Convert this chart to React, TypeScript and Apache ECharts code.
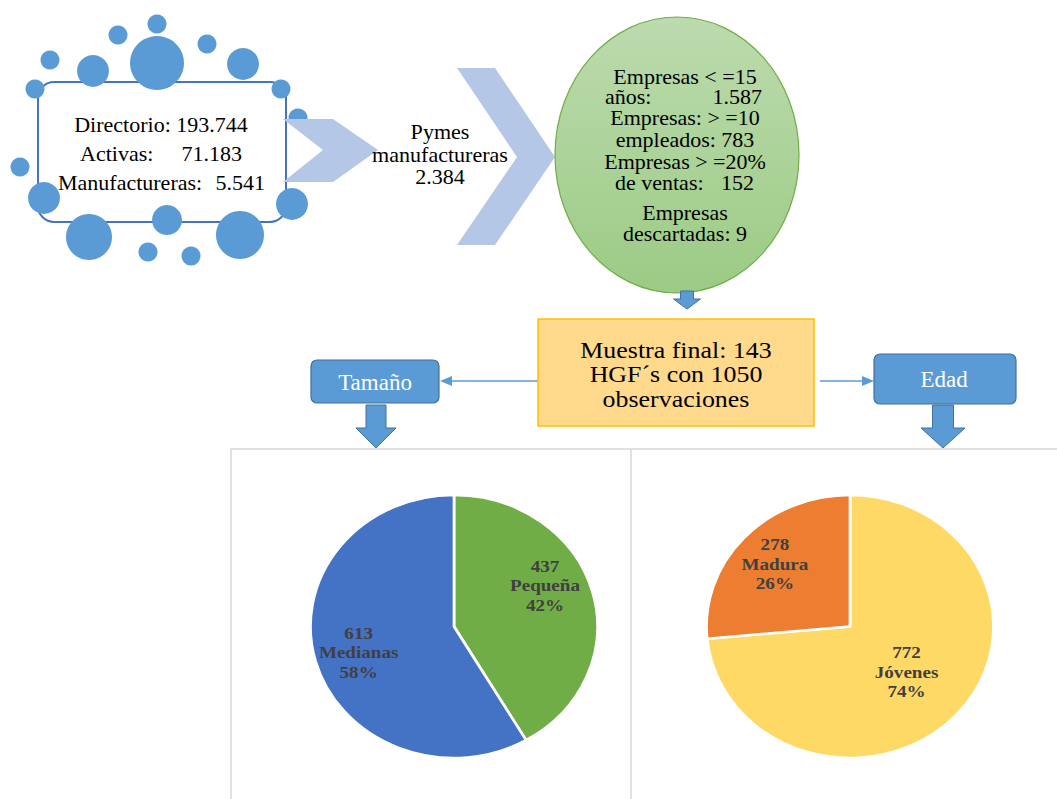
import React, { useEffect, useRef } from "react";
import * as echarts from "echarts";

const SERIF = "Liberation Serif";

// Pie data: size of the firms and age of the firms
const sizeNames = ["Pequeña", "Medianas"];
const sizeValues = [437, 613];
const ageNames = ["Jóvenes", "Madura"];
const ageValues = [772, 278];

// Funnel figures
const directorio = "193.744";
const activas = "71.183";
const manufactureras = "5.541";
const pymes = "2.384";
const filterLines = ["Empresas < =15", "", "Empresas: > =10", "empleados: 783", "Empresas > =20%", ""];
const aniosValue = "1.587";
const ventasValue = "152";
const descartadasLines = ["Empresas", "descartadas: 9"];
const muestraLines = ["Muestra final: 143", "HGF´s con 1050", "observaciones"];
const leftBranch = "Tamaño";
const rightBranch = "Edad";

// Decorative bubbles around the directory box: [cx, cy, r]
const bubbles: number[][] = [
  [157, 24, 9.5], [118, 35, 9.5], [207, 44, 9.5], [50, 60, 9.5], [93, 71, 16],
  [157, 63, 27], [243, 64, 16], [35, 89, 9.5], [281, 89, 9.5], [298, 118, 9.5],
  [20, 167, 9.5], [44, 198, 16], [292, 204, 16], [89, 237, 23], [167, 220, 15],
  [240, 235, 24], [148, 252, 9.5], [191, 256, 9.5],
];

const BLUE = "#5B9BD5";
const BLUE_DARK = "#41719C";
const CHEVRON = "#B4C7E7";

// Horizontal stretch of the pie layer (pies are slightly wider than tall)
const PIE_STRETCH = 1.0913;

function txt(x: number, y: number, text: string, size: number, opts: any = {}) {
  const align = opts.align || "center";
  return {
    type: "text",
    x,
    y,
    z: 20,
    scaleX: opts.scaleX || 1,
    style: {
      text,
      fontFamily: SERIF,
      fontSize: size,
      fontWeight: opts.weight || "normal",
      fill: opts.fill || "#000",
      align,
      textAlign: align,
      verticalAlign: "middle",
      textVerticalAlign: "middle",
      lineHeight: opts.lineHeight || size,
    },
  };
}

function blockArrowDown(cx: number, top: number, shaftW: number, headW: number, shaftEnd: number, tip: number) {
  return {
    type: "polygon",
    z: 10,
    shape: {
      points: [
        [cx - shaftW / 2, top], [cx + shaftW / 2, top], [cx + shaftW / 2, shaftEnd],
        [cx + headW / 2, shaftEnd], [cx, tip], [cx - headW / 2, shaftEnd], [cx - shaftW / 2, shaftEnd],
      ],
    },
    style: { fill: BLUE, stroke: BLUE_DARK, lineWidth: 1 },
  };
}

function buildGraphics() {
  const g: any[] = [];

  // Panel frames for the two pies
  const frame = { stroke: "#D9D9D9", lineWidth: 1.5 };
  g.push({ type: "line", shape: { x1: 230, y1: 449, x2: 1057, y2: 449 }, style: frame });
  g.push({ type: "line", shape: { x1: 231, y1: 449, x2: 231, y2: 799 }, style: frame });
  g.push({ type: "line", shape: { x1: 631, y1: 449, x2: 631, y2: 799 }, style: frame });

  // Directory box
  g.push({
    type: "rect",
    z: 5,
    shape: { x: 38, y: 82, width: 248, height: 140, r: 16 },
    style: { fill: "#fff", stroke: "#4472C4", lineWidth: 2 },
  });
  bubbles.forEach(([cx, cy, r]) => {
    g.push({ type: "circle", z: 6, shape: { cx, cy, r }, style: { fill: BLUE } });
  });
  g.push(txt(161, 124, `Directorio: ${directorio}`, 22));
  g.push(txt(80, 153, "Activas:", 22, { align: "left" }));
  g.push(txt(242, 153, activas, 22, { align: "right" }));
  g.push(txt(58, 182, "Manufactureras:", 22, { align: "left" }));
  g.push(txt(265, 182, manufactureras, 22, { align: "right" }));

  // Small chevron
  g.push({
    type: "polygon",
    z: 8,
    shape: { points: [[283, 119], [333, 119], [378, 150], [333, 182], [283, 182], [323, 150]] },
    style: { fill: CHEVRON },
  });
  g.push(txt(440, 155, `Pymes\nmanufactureras\n${pymes}`, 21, { lineHeight: 22.5, scaleX: 1.05 }));

  // Large chevron
  g.push({
    type: "polygon",
    z: 8,
    shape: { points: [[457, 68], [495, 68], [555, 157], [495, 245], [457, 245], [517, 157]] },
    style: { fill: CHEVRON },
  });

  // Filter ellipse
  g.push({
    type: "ellipse",
    z: 9,
    shape: { cx: 677, cy: 155, rx: 122, ry: 138 },
    style: {
      fill: {
        type: "linear", x: 0, y: 0, x2: 0, y2: 1,
        colorStops: [
          { offset: 0, color: "#BCDBAE" },
          { offset: 1, color: "#9CCB85" },
        ],
      },
      stroke: "#70AD47",
      lineWidth: 1.2,
    },
  });
  const f = { lineHeight: 20, scaleX: 1.1 };
  const fy = [77, 97, 118, 140, 162, 183];
  filterLines.forEach((t, i) => {
    if (t) g.push(txt(685, fy[i], t, 20, f));
  });
  g.push(txt(605, 97, "años:", 20, { ...f, align: "left" }));
  g.push(txt(762, 97, aniosValue, 20, { ...f, align: "right" }));
  g.push(txt(615, 183, "de ventas:", 20, { ...f, align: "left" }));
  g.push(txt(754, 183, ventasValue, 20, { ...f, align: "right" }));
  g.push(txt(685, 213, descartadasLines[0], 20, f));
  g.push(txt(685, 234, descartadasLines[1], 20, f));

  g.push(blockArrowDown(687, 291, 13, 27, 299, 309));

  // Final sample box
  g.push({
    type: "rect",
    z: 9,
    shape: { x: 538, y: 319, width: 276, height: 107 },
    style: { fill: "#FFD98C", stroke: "#FFC000", lineWidth: 1.5 },
  });
  g.push(txt(676, 374, muestraLines.join("\n"), 24, { lineHeight: 24.5, scaleX: 1.08 }));

  // Connectors
  const conn = { stroke: BLUE, lineWidth: 1.5 };
  g.push({ type: "line", shape: { x1: 538, y1: 381, x2: 448, y2: 381 }, style: conn });
  g.push({ type: "polygon", shape: { points: [[440, 381], [452, 376], [452, 386]] }, style: { fill: BLUE } });
  g.push({ type: "line", shape: { x1: 820, y1: 381, x2: 866, y2: 381 }, style: conn });
  g.push({ type: "polygon", shape: { points: [[874, 381], [862, 376], [862, 386]] }, style: { fill: BLUE } });

  // Branch boxes
  g.push({
    type: "rect",
    z: 9,
    shape: { x: 311, y: 360, width: 128, height: 43, r: 6 },
    style: { fill: BLUE, stroke: BLUE_DARK, lineWidth: 1.2 },
  });
  g.push(txt(375, 382, leftBranch, 23, { fill: "#fff" }));
  g.push({
    type: "rect",
    z: 9,
    shape: { x: 874, y: 354, width: 142, height: 50, r: 6 },
    style: { fill: BLUE, stroke: BLUE_DARK, lineWidth: 1.2 },
  });
  g.push(txt(944, 379, rightBranch, 23, { fill: "#fff" }));

  g.push(blockArrowDown(376, 405, 20, 40, 428, 448));
  g.push(blockArrowDown(943, 405, 21, 44, 428, 448));

  return g;
}

// Label nudges (dx, dy) per slice, in the unstretched pie layer
const sizeLabelShift = [[17, -23], [-21, 8]];
const ageLabelShift = [[1, -1], [-18, -16]];

function pieSeries(names: string[], values: number[], colors: string[], center: number[], shift: number[][]) {
  return {
    type: "pie",
    center,
    radius: 131.5,
    startAngle: 90,
    clockwise: true,
    percentPrecision: 0,
    silent: true,
    data: names.map((name, i) => ({ name, value: values[i], itemStyle: { color: colors[i] } })),
    itemStyle: { borderColor: "#fff", borderWidth: 2.5 },
    label: {
      show: true,
      position: "inside",
      formatter: "{c}\n{b}\n{d}%",
      fontFamily: SERIF,
      fontWeight: "bold",
      fontSize: 17.5,
      lineHeight: 19.5,
      color: "#404040",
    },
    labelLine: { show: false },
    labelLayout: (p: any) => ({ dx: shift[p.dataIndex][0], dy: shift[p.dataIndex][1] }),
    emphasis: { disabled: true },
  };
}

export default function App() {
  const mainRef = useRef<HTMLDivElement>(null);
  const pieRef = useRef<HTMLDivElement>(null);
  useEffect(() => {
    if (!mainRef.current || !pieRef.current) return;
    const chart = echarts.init(mainRef.current, undefined, { renderer: "svg" });
    chart.setOption({
      animation: false,
      backgroundColor: "#fff",
      graphic: { elements: buildGraphics() },
    });
    const pies = echarts.init(pieRef.current, undefined, { renderer: "svg" });
    pies.setOption({
      animation: false,
      series: [
        pieSeries(sizeNames, sizeValues, ["#70AD47", "#4472C4"], [454 / PIE_STRETCH, 626.5], sizeLabelShift),
        pieSeries(ageNames, ageValues, ["#FFD966", "#ED7D31"], [850 / PIE_STRETCH, 626.5], ageLabelShift),
      ],
    });
    return () => {
      chart.dispose();
      pies.dispose();
    };
  }, []);
  return (
    <div style={{ position: "absolute", left: 0, top: 0, width: 1057, height: 799, overflow: "hidden" }}>
      <div ref={mainRef} style={{ position: "absolute", left: 0, top: 0, width: 1057, height: 799 }} />
      <div
        ref={pieRef}
        style={{
          position: "absolute",
          left: 0,
          top: 0,
          width: Math.round(1057 / PIE_STRETCH),
          height: 799,
          transform: `scaleX(${PIE_STRETCH})`,
          transformOrigin: "0 0",
        }}
      />
    </div>
  );
}
